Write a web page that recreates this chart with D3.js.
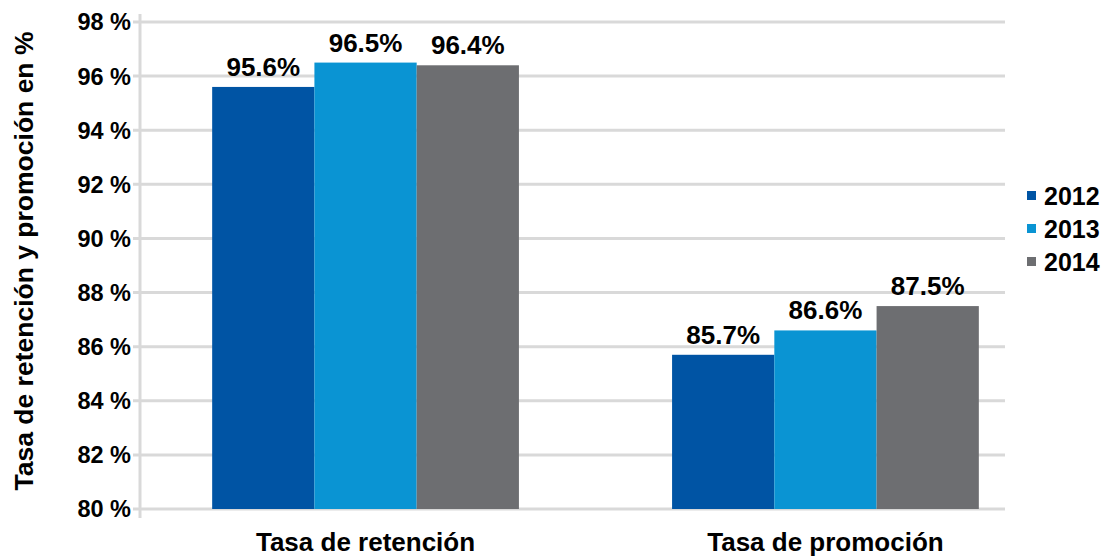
<!doctype html>
<html lang="es">
  <head>
    <meta charset="utf-8" />
    <title>Tasa de retención y promoción</title>
    <style>
     body {
       margin: 0;
       background: #fff;
       font-family: "Liberation Sans", Arial, sans-serif;
     }
     .grid line {
       stroke: #d9d9d9;
       stroke-width: 3px;
     }
     .lbl {
       font-weight: bold;
       fill: #000;
     }
    </style>
  </head>
  <body>
    <div id="chart"></div>

    <script src="https://cdn.jsdelivr.net/npm/d3@7/dist/d3.min.js"></script>
    <script>
    // data
    var categories = ["Tasa de retención", "Tasa de promoción"];
    var years = ["2012", "2013", "2014"];
    var v2012 = [95.6, 85.7];
    var v2013 = [96.5, 86.6];
    var v2014 = [96.4, 87.5];
    var yTicks = [80, 82, 84, 86, 88, 90, 92, 94, 96, 98];
    var colors = ["#0054a4", "#0a94d3", "#6d6e71"];
    var yTitle = "Tasa de retención y promoción en %";

    var series = [v2012, v2013, v2014];

    var width = 1108, height = 560;
    var svg = d3.select("#chart").append("svg")
        .attr("width", width)
        .attr("height", height);

    var axisX = 140, gridEnd = 1005;

    var y = d3.scaleLinear().domain([80, 98]).range([509, 22]);

    var x0 = d3.scaleBand()
        .domain(categories)
        .range([135.5, 1055.5])
        .paddingInner(0.333)
        .paddingOuter(0.1667);

    var x1 = d3.scaleBand()
        .domain(years)
        .range([0, x0.bandwidth()]);

    // gridlines
    svg.append("g")
        .attr("class", "grid")
        .selectAll("line")
        .data(yTicks)
        .join("line")
        .attr("x1", axisX - 7)
        .attr("x2", gridEnd)
        .attr("y1", function(d) { return y(d); })
        .attr("y2", function(d) { return y(d); });

    // y axis line
    svg.append("line")
        .attr("x1", axisX).attr("x2", axisX)
        .attr("y1", 14).attr("y2", 518)
        .attr("stroke", "#d9d9d9")
        .attr("stroke-width", 3);

    // tick labels
    svg.append("g").selectAll("text")
        .data(yTicks)
        .join("text")
        .attr("class", "lbl")
        .attr("x", 131)
        .attr("y", function(d) { return y(d); })
        .attr("dy", "0.36em")
        .attr("text-anchor", "end")
        .attr("font-size", 23.5)
        .text(function(d) { return d + " %"; });

    // bars
    var groups = svg.append("g").selectAll("g")
        .data(series)
        .join("g")
        .attr("fill", function(d, i) { return colors[i]; });

    groups.selectAll("rect")
        .data(function(d, i) {
          return d.map(function(v, j) { return {cat: categories[j], year: years[i], value: v}; });
        })
        .join("rect")
        .attr("x", function(d) { return x0(d.cat) + x1(d.year); })
        .attr("y", function(d) { return y(d.value); })
        .attr("width", x1.bandwidth())
        .attr("height", function(d) { return y(80) - y(d.value); });

    groups.selectAll("text")
        .data(function(d, i) {
          return d.map(function(v, j) { return {cat: categories[j], year: years[i], value: v}; });
        })
        .join("text")
        .attr("class", "lbl")
        .attr("fill", "#000")
        .attr("x", function(d) { return x0(d.cat) + x1(d.year) + x1.bandwidth() / 2; })
        .attr("y", function(d) { return y(d.value) - 11; })
        .attr("text-anchor", "middle")
        .attr("font-size", 26)
        .text(function(d) { return d.value.toFixed(1) + "%"; });

    // category labels
    svg.append("g").selectAll("text")
        .data(categories)
        .join("text")
        .attr("class", "lbl")
        .attr("x", function(d) { return x0(d) + x0.bandwidth() / 2; })
        .attr("y", 551)
        .attr("text-anchor", "middle")
        .attr("font-size", 26)
        .text(function(d) { return d; });

    // y title
    svg.append("text")
        .attr("class", "lbl")
        .attr("transform", "translate(33,261) rotate(-90)")
        .attr("text-anchor", "middle")
        .attr("font-size", 26.5)
        .text(yTitle);

    // legend
    var legend = svg.append("g").selectAll("g")
        .data(years)
        .join("g")
        .attr("transform", function(d, i) { return "translate(1027," + (196 + i * 33) + ")"; });
    legend.append("rect")
        .attr("x", 0).attr("y", -5)
        .attr("width", 9).attr("height", 9)
        .attr("fill", function(d, i) { return colors[i]; });
    legend.append("text")
        .attr("class", "lbl")
        .attr("x", 17)
        .attr("dy", "0.36em")
        .attr("font-size", 25)
        .text(function(d) { return d; });
    </script>
  </body>
</html>
